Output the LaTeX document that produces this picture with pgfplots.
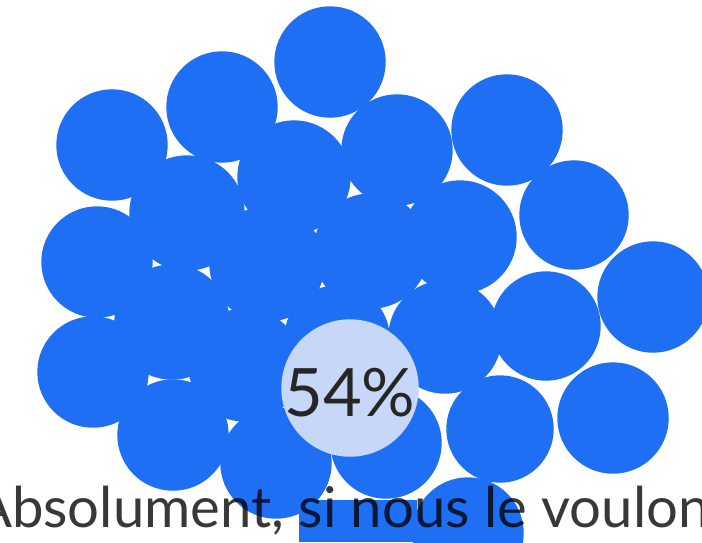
\documentclass[border=0pt]{standalone}
\usepackage{pgfplots}
\pgfplotsset{compat=1.18}
\usepackage{pgfplotstable}
\usepackage{fontspec}
\setmainfont{Lato}
\definecolor{bubble}{HTML}{1F6FF5}
\definecolor{hilite}{HTML}{C6D7F8}
\pgfplotstableread{
x y r
330 62 55
222 107 55
112 145 55
397 150 55
507 130 55
294 177 56
187 213 57
574 215 54
460 237 56
97 262 55
267 264 57
371 251 57
653 297 55
546 326 54
172 322 57
445 337 56
245 365 56
337 338 52
93 372 55
613 418 55
500 429 53
173 435 55
276 463 55
386 443 55
468 533 55
}\bubbles
\begin{document}
\begin{tikzpicture}
\begin{axis}[hide axis, scale only axis, width=7.02cm, height=5.42cm,
  xmin=0, xmax=702, ymin=0, ymax=542, y dir=reverse,
  clip=true, clip marker paths=true]
\coordinate (bbA) at (axis cs:0,0);
\coordinate (bbB) at (axis cs:702,542);
\addplot[scatter, only marks, mark=*, point meta=0,
  scatter/use mapped color={draw=bubble, fill=bubble},
  visualization depends on={\thisrow{r}*0.28453 \as \rr},
  scatter/@pre marker code/.append style={/tikz/mark size=\rr}]
  table[x=x, y=y] {\bubbles};
\addplot[fill=bubble, draw=none] coordinates {(299,500) (417,500) (417,542) (299,542)} -- cycle;
\addplot[only marks, mark=*, mark size=19.35pt, mark options={draw=hilite, fill=hilite}]
  coordinates {(350,388)};
\node[text=black!85, font=\fontsize{19}{22}\selectfont] at (axis cs:350,393) {54\%};
\node[text=black, text opacity=0.78, font=\fontsize{16}{19}\selectfont] at (axis cs:354,511) {Absolument, si nous le voulons};
\end{axis}
\pgfresetboundingbox
\path[use as bounding box] (bbA) rectangle (bbB);
\end{tikzpicture}
\end{document}
